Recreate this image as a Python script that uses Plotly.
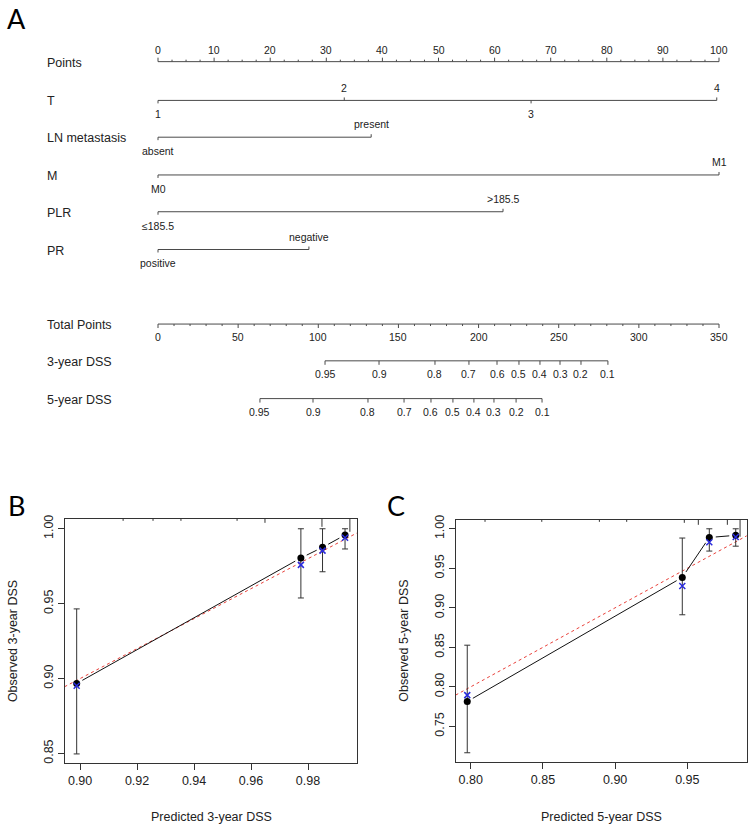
import math
import plotly.graph_objects as go

W, H = 750, 824

# ---------------- Nomogram data ----------------
points_ticks = list(range(0, 101, 10))
var_names = ["T", "LN metastasis", "M", "PLR", "PR"]
T_levels = ["1", "2", "3", "4"]
T_points = [0, 33.2, 66.5, 99.6]
LN_levels = ["absent", "present"]
LN_points = [0, 38.0]
M_levels = ["M0", "M1"]
M_points = [0, 100]
PLR_levels = ["≤185.5", ">185.5"]
PLR_points = [0, 61.5]
PR_levels = ["positive", "negative"]
PR_points = [0, 26.9]
total_ticks = list(range(0, 351, 50))
total_max = 350
dss_labels = ["0.95", "0.9", "0.8", "0.7", "0.6", "0.5", "0.4", "0.3", "0.2", "0.1"]
dss3_total = [104.2, 137.9, 172.8, 194.0, 211.5, 225.2, 238.3, 250.8, 263.9, 280.7]
dss5_total = [63.6, 96.7, 131.0, 153.5, 170.3, 184.0, 197.1, 209.6, 223.4, 239.6]

# ---------------- Calibration data ----------------
pred3 = [0.8988, 0.9775, 0.9851, 0.9930]
obs3 = [0.8967, 0.9805, 0.9876, 0.9958]
lo3 = [0.8497, 0.9538, 0.9713, 0.9865]
hi3 = [0.9465, 1.0, 1.0, 1.0]
corr3 = [0.8952, 0.9759, 0.9854, 0.9940]
rug3_x = [0.9151, 0.9256, 0.9354, 0.9551, 0.9649, 0.9849, 0.9947]
rug3_f = [2, 2, 2, 2, 4, 8, 13]

pred5 = [0.7976, 0.9465, 0.9652, 0.9835]
obs5 = [0.7814, 0.9385, 0.9890, 0.9917]
lo5 = [0.7166, 0.8912, 0.9718, 0.9780]
hi5 = [0.8527, 0.9883, 1.0, 1.0]
corr5 = [0.7895, 0.9276, 0.9830, 0.9896]
rug5_x = [0.8099, 0.8492, 0.8891, 0.9080, 0.9479, 0.9576, 0.9777, 0.9865]
rug5_f = [2, 2, 2, 2, 3, 5, 5, 17]

# ---------------- Layout geometry (pixels) ----------------
FONT = "Liberation Sans, Arial, sans-serif"
LINE = "#4a4a4a"
nomo_top_px = 428
px_per_pt = 5.61
x0_px = 158
x3_range = [-x0_px / px_per_pt, (W - x0_px) / px_per_pt]

rows_y = {"Points": 57, "T": 96, "LN metastasis": 133, "M": 171, "PLR": 208,
          "PR": 246, "Total Points": 321, "3-year DSS": 358, "5-year DSS": 396}

fig = go.Figure()
ann = []


def seg_trace(xs, ys, width=1, color=LINE):
    fig.add_trace(go.Scatter(x=xs, y=ys, mode="lines", xaxis="x3", yaxis="y3",
                             line=dict(color=color, width=width),
                             hoverinfo="skip", showlegend=False))


def nlabel(x, y, text, size=10.5, xanchor="center"):
    ann.append(dict(x=x, y=y, xref="x3", yref="y3", text=text, showarrow=False,
                    xanchor=xanchor, yanchor="middle",
                    font=dict(family=FONT, size=size, color="#222")))


# names
for name, yy in rows_y.items():
    ann.append(dict(x=45 / W, y=1 - (yy + 1) / H, xref="paper", yref="paper", text=name,
                    showarrow=False, xanchor="left", yanchor="middle",
                    font=dict(family=FONT, size=12.5, color="#222")))

# Points axis
yp = rows_y["Points"]
seg_trace([0, 100], [yp, yp])
tx, ty = [], []
k = 0
while k <= 100 + 1e-9:
    L = 4 if abs(k / 10 - round(k / 10)) < 1e-9 else 2
    tx += [k, k, None]
    ty += [yp, yp - L, None]
    k += 2.5
seg_trace(tx, ty)
for v in points_ticks:
    nlabel(v, yp - 12, str(v))

# Variable axes
var_data = [(T_levels, T_points), (LN_levels, LN_points), (M_levels, M_points),
            (PLR_levels, PLR_points), (PR_levels, PR_points)]
for name, (levels, pts) in zip(var_names, var_data):
    yy = rows_y[name]
    seg_trace([min(pts), max(pts)], [yy, yy])
    tx, ty = [], []
    for i, (lab, p) in enumerate(zip(levels, pts)):
        above = (i % 2 == 1)
        d = -3 if above else 3
        tx += [p, p, None]
        ty += [yy, yy + d, None]
        nlabel(p, yy - 13 if above else yy + 14, lab)
    seg_trace(tx, ty)

# Total points axis
tp_scale = 100 / total_max
yt = rows_y["Total Points"]
seg_trace([0, total_max * tp_scale], [yt, yt])
tx, ty = [], []
for v in range(0, total_max + 1, 10):
    L = 4 if v % 50 == 0 else 2
    tx += [v * tp_scale, v * tp_scale, None]
    ty += [yt, yt + L, None]
seg_trace(tx, ty)
for v in total_ticks:
    nlabel(v * tp_scale, yt + 13, str(v))

# DSS axes
for name, vals in [("3-year DSS", dss3_total), ("5-year DSS", dss5_total)]:
    yy = rows_y[name]
    xs = [v * tp_scale for v in vals]
    seg_trace([min(xs), max(xs)], [yy, yy])
    tx, ty = [], []
    for x in xs:
        tx += [x, x, None]
        ty += [yy, yy + 4, None]
    seg_trace(tx, ty)
    for x, lab in zip(xs, dss_labels):
        nlabel(x, yy + 13, lab)

# ---------------- Calibration panels ----------------
panels = [
    dict(xa="x", ya="y", pred=pred3, obs=obs3, lo=lo3, hi=hi3, corr=corr3,
         rugx=rug3_x, rugf=rug3_f, px=(65, 357), py=(517, 763),
         xr=[0.8947, 0.9972], yr=[0.8434, 1.0066],
         xt=[0.90, 0.92, 0.94, 0.96, 0.98], yt=[0.85, 0.90, 0.95, 1.00],
         xtitle="Predicted 3-year DSS", ytitle="Observed 3-year DSS", letter="B",
         lx=6),
    dict(xa="x2", ya="y2", pred=pred5, obs=obs5, lo=lo5, hi=hi5, corr=corr5,
         rugx=rug5_x, rugf=rug5_f, px=(455.7, 746.7), py=(518, 761.7),
         xr=[0.7896, 0.9911], yr=[0.7048, 1.0113],
         xt=[0.80, 0.85, 0.90, 0.95], yt=[0.75, 0.80, 0.85, 0.90, 0.95, 1.00],
         xtitle="Predicted 5-year DSS", ytitle="Observed 5-year DSS", letter="C",
         lx=385),
]

shapes = []
for P in panels:
    xr, yr = P["xr"], P["yr"]
    wpx = P["px"][1] - P["px"][0]
    hpx = P["py"][1] - P["py"][0]
    # ideal line
    fig.add_trace(go.Scatter(x=[0.6, 1.05], y=[0.6, 1.05], mode="lines",
                             xaxis=P["xa"], yaxis=P["ya"],
                             line=dict(color="#e8403a", width=1, dash="dot"),
                             hoverinfo="skip", showlegend=False))
    # observed line with gaps around points
    gx, gy = [], []
    gap = 6.5
    xs, ys = P["pred"], P["obs"]
    for i in range(len(xs) - 1):
        a = ((xs[i] - xr[0]) / (xr[1] - xr[0]) * wpx, (ys[i] - yr[0]) / (yr[1] - yr[0]) * hpx)
        b = ((xs[i + 1] - xr[0]) / (xr[1] - xr[0]) * wpx, (ys[i + 1] - yr[0]) / (yr[1] - yr[0]) * hpx)
        d = math.hypot(b[0] - a[0], b[1] - a[1])
        if d <= 2 * gap:
            continue
        ux, uy = (b[0] - a[0]) / d, (b[1] - a[1]) / d
        for (qx, qy) in [(a[0] + ux * gap, a[1] + uy * gap), (b[0] - ux * gap, b[1] - uy * gap)]:
            gx.append(xr[0] + qx / wpx * (xr[1] - xr[0]))
            gy.append(yr[0] + qy / hpx * (yr[1] - yr[0]))
        gx.append(None)
        gy.append(None)
    fig.add_trace(go.Scatter(x=gx, y=gy, mode="lines", xaxis=P["xa"], yaxis=P["ya"],
                             line=dict(color="#111", width=1),
                             hoverinfo="skip", showlegend=False))
    # error bars + observed points
    fig.add_trace(go.Scatter(
        x=xs, y=ys, mode="markers", xaxis=P["xa"], yaxis=P["ya"],
        marker=dict(color="#000", size=7, symbol="circle"),
        error_y=dict(type="data", symmetric=False,
                     array=[h - o for h, o in zip(P["hi"], ys)],
                     arrayminus=[o - l for o, l in zip(ys, P["lo"])],
                     color="#333", thickness=1, width=3),
        hoverinfo="skip", showlegend=False))
    # bias-corrected
    fig.add_trace(go.Scatter(
        x=xs, y=P["corr"], mode="markers", xaxis=P["xa"], yaxis=P["ya"],
        marker=dict(symbol="x-thin", size=6, line=dict(color="#2b2bdc", width=1.5)),
        hoverinfo="skip", showlegend=False))
    # rug of predicted values at the top
    for rx, rf in zip(P["rugx"], P["rugf"]):
        shapes.append(dict(type="line", xref=P["xa"], yref=P["ya"] + " domain",
                           x0=rx, x1=rx, y0=1, y1=1 - rf / hpx,
                           line=dict(color="#333", width=1)))
    # axis titles
    cx = (P["px"][0] + P["px"][1]) / 2
    cy = (P["py"][0] + P["py"][1]) / 2
    ann.append(dict(x=cx / W, y=1 - 817 / H, xref="paper", yref="paper",
                    text=P["xtitle"], showarrow=False, xanchor="center", yanchor="middle",
                    font=dict(family=FONT, size=12.5, color="#222")))
    ann.append(dict(x=(P["px"][0] - 52) / W, y=1 - cy / H, xref="paper", yref="paper",
                    text=P["ytitle"], showarrow=False, textangle=-90,
                    xanchor="center", yanchor="middle",
                    font=dict(family=FONT, size=12.5, color="#222")))
    ann.append(dict(x=P["lx"] / W, y=1 - 504 / H, xref="paper", yref="paper",
                    text=P["letter"], showarrow=False, xanchor="left", yanchor="middle",
                    font=dict(family="Lato, Open Sans, sans-serif", size=27, color="#000")))

ann.append(dict(x=5 / W, y=1 - 14 / H, xref="paper", yref="paper", text="A",
                showarrow=False, xanchor="left", yanchor="middle",
                font=dict(family="Lato, Open Sans, sans-serif", size=27, color="#000")))


def ax_common():
    return dict(showgrid=False, zeroline=False, showline=True, mirror=True,
                linecolor="#333", linewidth=1, ticks="outside", ticklen=6,
                tickcolor="#333", tickwidth=1,
                tickfont=dict(family=FONT, size=12.5, color="#222"))


pB, pC = panels
fig.update_layout(
    width=W, height=H, margin=dict(l=0, r=0, t=0, b=0),
    paper_bgcolor="white", plot_bgcolor="rgba(0,0,0,0)",
    showlegend=False,
    xaxis=dict(domain=[pB["px"][0] / W, pB["px"][1] / W], range=pB["xr"],
               tickvals=pB["xt"], ticktext=[f"{v:.2f}" for v in pB["xt"]],
               anchor="y", **ax_common()),
    yaxis=dict(domain=[1 - pB["py"][1] / H, 1 - pB["py"][0] / H], range=pB["yr"],
               tickvals=pB["yt"], ticktext=[f"{v:.2f}" for v in pB["yt"]],
               tickangle=-90, anchor="x", **ax_common()),
    xaxis2=dict(domain=[pC["px"][0] / W, pC["px"][1] / W], range=pC["xr"],
                tickvals=pC["xt"], ticktext=[f"{v:.2f}" for v in pC["xt"]],
                anchor="y2", **ax_common()),
    yaxis2=dict(domain=[1 - pC["py"][1] / H, 1 - pC["py"][0] / H], range=pC["yr"],
                tickvals=pC["yt"], ticktext=[f"{v:.2f}" for v in pC["yt"]],
                tickangle=-90, anchor="x2", **ax_common()),
    xaxis3=dict(domain=[0, 1], range=x3_range, visible=False, anchor="y3",
                fixedrange=True),
    yaxis3=dict(domain=[1 - nomo_top_px / H, 1], range=[nomo_top_px, 0], visible=False,
                anchor="x3", fixedrange=True),
    annotations=ann, shapes=shapes,
)

fig.write_html(
    "out.html",
    config={"displayModeBar": False},
    post_script="document.body.style.margin='0px';document.body.style.padding='0px';"
                "document.documentElement.style.overflow='hidden';",
)
